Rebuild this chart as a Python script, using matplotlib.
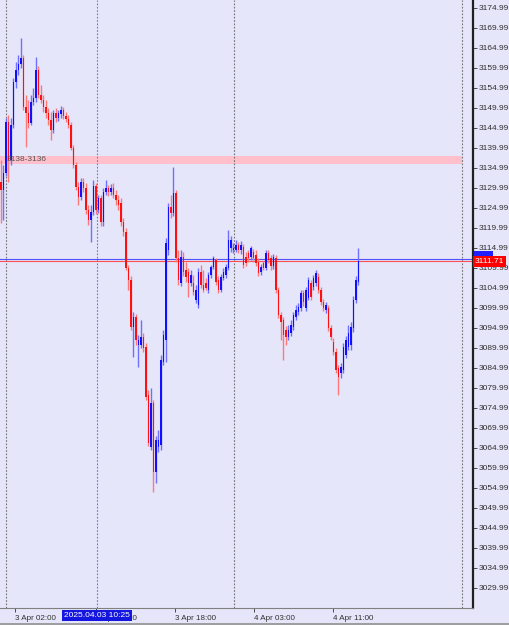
import numpy as np
import matplotlib
matplotlib.use("Agg")
import matplotlib.pyplot as plt
from matplotlib.transforms import blended_transform_factory
from matplotlib.lines import Line2D

# XAUUSD M15, 3-4 Apr 2025
opens = [3131.5, 3129.5, 3133.75, 3146.5, 3137, 3145.75, 3156.5, 3159.5, 3161, 3162.5,
         3150.25, 3148.75, 3146.25, 3151.5, 3152.5, 3159.5, 3153.25, 3152, 3150.25, 3148.75,
         3147, 3144.5, 3148.75, 3147.5, 3148.5, 3149.5, 3148, 3147.25, 3145.75, 3140,
         3135.75, 3130.25, 3127.75, 3131.5, 3130, 3124.5, 3122, 3124, 3130.5, 3124.5,
         3127.5, 3121.5, 3129, 3130, 3129, 3130, 3128.25, 3127, 3126.25, 3121.5,
         3119, 3110, 3107, 3095.25, 3097.75, 3090.75, 3090.75, 3092.75, 3090.25, 3078.25,
         3065.25, 3076.25, 3059, 3065.25, 3065.75, 3086.5, 3092, 3114.5, 3125.25, 3123.75,
         3128.75, 3112.5, 3106.25, 3112.75, 3109.5, 3109, 3106.25, 3106.25, 3102, 3100.75,
         3109, 3105.75, 3106.25, 3104.5, 3108.25, 3110.25, 3112, 3107, 3104.5, 3107.5,
         3108.25, 3110, 3115, 3114.5, 3114.5, 3115.75, 3114.5, 3115.25, 3112.75, 3113.75,
         3112.75, 3114, 3113.25, 3111.5, 3109, 3111.25, 3110, 3113.75, 3112.5, 3110.5,
         3112.5, 3104.5, 3098.25, 3097, 3094.5, 3092.75, 3093.75, 3095.25, 3097.75, 3099,
         3100, 3103.75, 3100, 3102.5, 3106.25, 3105.25, 3106.25, 3107.75, 3104.5, 3101.5,
         3099.5, 3100, 3095, 3091.5, 3089, 3085, 3083.75, 3084.5, 3088.25, 3090.25,
         3090.75, 3095, 3102, 3106.5]
highs = [3137, 3135.75, 3147.5, 3148.25, 3147.5, 3157.5, 3161.5, 3163.25, 3167.5, 3163.25,
         3153.25, 3152, 3153.25, 3155, 3162.75, 3160.5, 3155.75, 3153.25, 3152, 3150,
         3149, 3149.5, 3150, 3149.5, 3150.5, 3150.25, 3149, 3148.25, 3146.5, 3140.75,
         3136.5, 3131.5, 3132.5, 3132.5, 3131.25, 3125.75, 3125.75, 3132, 3131.25, 3128.25,
         3128.25, 3130, 3132, 3130.75, 3131, 3131.25, 3129.5, 3128.25, 3127.5, 3122.5,
         3120, 3110.75, 3108, 3099, 3098.5, 3093.25, 3097, 3093.75, 3091.25, 3079.5,
         3080, 3077, 3068, 3069.5, 3088.25, 3094.5, 3117.5, 3126.25, 3128.25, 3135.25,
         3129.5, 3114.5, 3114.5, 3114, 3111.5, 3110, 3109.5, 3108.25, 3105.75, 3110,
         3110.75, 3109.5, 3107.5, 3109, 3110.75, 3113, 3112.5, 3108, 3108.5, 3110,
         3111, 3119.5, 3118, 3116.25, 3117, 3116.5, 3116.75, 3116, 3114, 3114.5,
         3115.5, 3114.75, 3114.5, 3112.5, 3111, 3111.75, 3114.5, 3114.5, 3113.25, 3113.5,
         3113.25, 3105.25, 3099, 3097.75, 3095.5, 3095.75, 3097, 3099, 3100.75, 3101.25,
         3104.5, 3104.5, 3105.25, 3107.75, 3107, 3108.25, 3109.5, 3108.75, 3105.25, 3102.25,
         3101.5, 3100.75, 3095.75, 3092.5, 3090, 3085.75, 3086.25, 3091.25, 3093, 3095.75,
         3096.5, 3103, 3108, 3115]
lows = [3121.25, 3122, 3133, 3131.5, 3135.75, 3145, 3155, 3158.25, 3160, 3149.5,
        3140.25, 3145, 3145.75, 3150.75, 3151.5, 3152.5, 3151.25, 3149, 3147.5, 3145.75,
        3142, 3143.75, 3146.5, 3146.75, 3147.5, 3147.25, 3146.5, 3145, 3139.5, 3135,
        3129.5, 3125.75, 3127, 3129, 3123.5, 3120.75, 3116.5, 3123.25, 3123.5, 3123.75,
        3120.5, 3120.5, 3128.25, 3128, 3128.25, 3127.5, 3125.75, 3124.5, 3120.5, 3118,
        3109.5, 3104.5, 3094.5, 3087.75, 3090.75, 3085.25, 3090, 3089, 3077, 3065.5,
        3064.5, 3054, 3056.25, 3064, 3064.5, 3085.75, 3086.5, 3113.25, 3122.5, 3123,
        3111.5, 3105.75, 3105.5, 3108, 3106.5, 3102.75, 3105.5, 3103.25, 3101.25, 3100,
        3105, 3104, 3104.5, 3103.75, 3107.5, 3109.75, 3105.75, 3103.75, 3104, 3107,
        3107.5, 3109.5, 3114, 3113.75, 3114, 3113.75, 3113.5, 3110, 3110.5, 3111.5,
        3112, 3111.5, 3110.5, 3108, 3108.25, 3109.5, 3109.5, 3111.25, 3109.5, 3109.75,
        3103.75, 3097.5, 3092, 3087, 3090.75, 3092, 3093, 3094.5, 3097, 3098.25,
        3099.25, 3100.5, 3099.25, 3102, 3102, 3104.5, 3105.5, 3103.75, 3100.75, 3099.25,
        3098.75, 3094.25, 3092, 3088.25, 3083.75, 3078.25, 3082.5, 3083.75, 3087.5, 3089.5,
        3089.5, 3094, 3101.25, 3105.75]
closes = [3129.5, 3133.75, 3146.5, 3137, 3145.75, 3156.5, 3159.5, 3161, 3162.5, 3150.25,
          3148.75, 3146.25, 3151.5, 3152.5, 3159.5, 3153.25, 3152, 3150.25, 3148.75, 3147,
          3144.5, 3148.75, 3147.5, 3148.75, 3149.5, 3148, 3147.25, 3145.75, 3140, 3135.75,
          3130.25, 3127.75, 3131.5, 3130, 3124.5, 3122, 3124, 3130.5, 3124.5, 3127.5,
          3121.5, 3129, 3130, 3129, 3130, 3128.25, 3127, 3125.75, 3121.5, 3119,
          3110, 3107, 3095.25, 3097.75, 3092, 3092, 3092.75, 3090, 3077.75, 3066.25,
          3076.25, 3059, 3067, 3067, 3087, 3093.25, 3116.25, 3125.25, 3123.75, 3128.75,
          3112.5, 3107, 3112.75, 3109, 3107.75, 3106.25, 3108.25, 3104, 3104.5, 3109,
          3105.75, 3104.5, 3105, 3108.25, 3110.25, 3112.5, 3106.5, 3104.5, 3107.75, 3109,
          3110.25, 3117, 3117, 3115, 3115.75, 3114.5, 3115.75, 3110.75, 3111.25, 3112.5,
          3115, 3112.5, 3111.25, 3108.75, 3110.25, 3110, 3113.75, 3112, 3110.5, 3112.75,
          3104.5, 3098.25, 3096.5, 3093.25, 3092.75, 3094.5, 3095.75, 3098.25, 3099.5, 3100.25,
          3103.75, 3101.5, 3104.5, 3107, 3102.75, 3107.5, 3108.75, 3104.5, 3101.5, 3100,
          3100.75, 3095, 3092.75, 3089, 3084.5, 3082.75, 3085.25, 3090.25, 3092, 3093.75,
          3095.25, 3102, 3107, 3111.71]

bid = 3111.71
ask = 3112.24
zone = (3136, 3138)
zone_label = "3138-3136"
separators = [2, 38.4, 93.2, 184.4]      # candle index of the dotted verticals
time_ticks = [5.6, 38.0, 69.6, 101.2, 132.8]
time_labels = ["3 Apr 02:00", "3 Apr 10:00", "3 Apr 18:00", "4 Apr 03:00", "4 Apr 11:00"]
cursor_time = "2025.04.03 10:25"
price_ticks = np.arange(3029.99, 3175.0, 5)

bg = "#E6E6FA"
up_col = "#1010FF"
dn_col = "#FF1010"

fig = plt.figure(figsize=(5.09, 6.25), dpi=100, facecolor=bg)
ax = fig.add_axes([0, 17 / 625, 473 / 509, 608 / 625], facecolor=bg)
ax.set_xlim(-0.4, 188.8)
ax.set_ylim(3024.99, 3176.99)

o = np.array(opens)
h = np.array(highs)
l = np.array(lows)
c = np.array(closes)
idx = np.arange(len(c))
up = c >= o

# zone band
ax.fill_between([-0.4, separators[-1]], zone[0], zone[1], color="#FFC0CB", lw=0, zorder=1)
ax.text(2.4, np.mean(zone), zone_label, fontsize=6, color="#555555",
        family="Liberation Sans", va="center", ha="left", zorder=5)

# separators
for i, s in enumerate(separators):
    col = "#7070E0" if i == 1 else "#707070"
    ax.axvline(s, color=col, lw=0.8, ls=(0, (1.5, 1.5)), zorder=2)

# candles: light wicks, solid bodies
wick_cols = np.where(up, "#7070FF", "#FF7878")
ax.vlines(idx, l, h, colors=wick_cols, lw=1.0, zorder=3)
body_lo = np.minimum(o, c)
body_h = np.maximum(np.abs(c - o), 0.35)
ax.bar(idx, body_h, bottom=body_lo, width=0.76,
       color=np.where(up, up_col, dn_col), lw=0, zorder=4)

# bid / ask lines
ax.axhline(ask, color="#5050FF", lw=0.8, zorder=2)
ax.axhline(bid, color="#FF5050", lw=0.8, zorder=2)

# axes styling
for side in ["top", "left"]:
    ax.spines[side].set_visible(False)
ax.spines["right"].set_color("#202020")
ax.spines["right"].set_linewidth(1.6)
ax.spines["bottom"].set_color("#808080")
ax.spines["bottom"].set_linewidth(0.8)

ax.yaxis.tick_right()
ax.set_yticks(price_ticks)
ax.set_yticklabels([f"{p:.2f}" for p in price_ticks])
ax.tick_params(axis="y", length=3, width=0.6, pad=1, labelsize=6, colors="#303030")
ax.set_xticks(time_ticks)
ax.set_xticklabels(time_labels, ha="left")
ax.tick_params(axis="x", length=3, width=0.6, pad=2, labelsize=5.8, colors="#303030")
for lab in ax.get_xticklabels() + ax.get_yticklabels():
    lab.set_family("Liberation Sans")

# price labels at the right edge
tr_y = blended_transform_factory(ax.transAxes, ax.transData)
ax.text(1.004, ask + 0.9, "       ", fontsize=6, family="Liberation Sans",
        va="center", ha="left", transform=tr_y, clip_on=False, zorder=6,
        bbox=dict(boxstyle="square,pad=0.15", fc="#2020FF", ec="none"))
ax.text(1.004, bid, "3111.71", fontsize=6, family="Liberation Sans", color="white",
        va="center", ha="left", transform=tr_y, clip_on=False, zorder=7,
        bbox=dict(boxstyle="square,pad=0.25", fc="#FF0000", ec="none"))

# cursor time label
tr_x = blended_transform_factory(ax.transData, ax.transAxes)
ax.text(separators[1], -0.0125, cursor_time, fontsize=6, family="Liberation Sans",
        color="white", ha="center", va="center", transform=tr_x, clip_on=False, zorder=7,
        bbox=dict(boxstyle="square,pad=0.22", fc="#1515E0", ec="none"))

fig.add_artist(Line2D([0, 1], [1.5 / 625, 1.5 / 625], color="#909090", lw=1.2,
                      transform=fig.transFigure))

fig.savefig("out.png", dpi=100, facecolor=bg)
